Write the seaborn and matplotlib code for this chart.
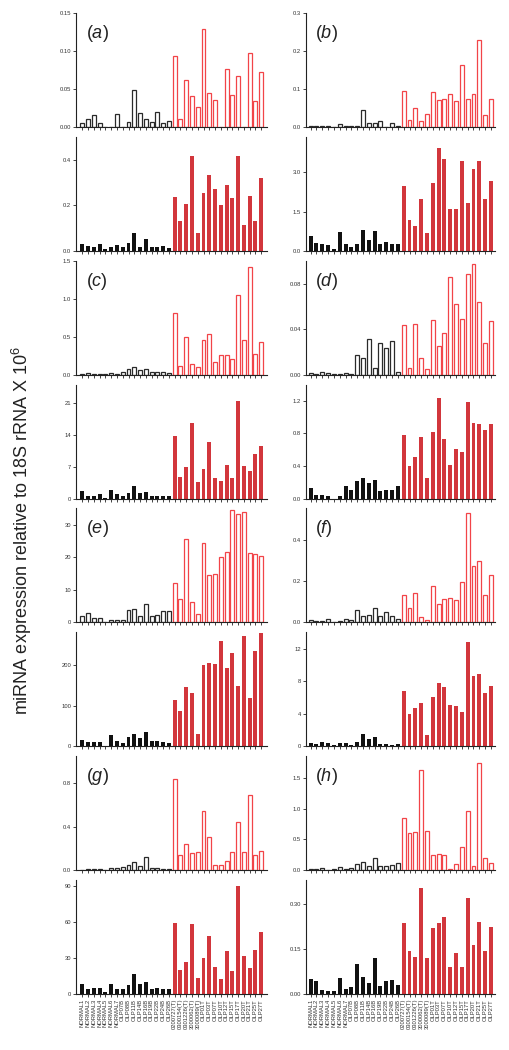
import pandas as pd
import seaborn as sns
import matplotlib.pyplot as plt

sns.set_style("ticks")
plt.rcParams["font.family"] = ["Liberation Sans", "DejaVu Sans"]
plt.rcParams["mathtext.fontset"] = "custom"
plt.rcParams["mathtext.rm"] = "Liberation Sans"
plt.rcParams["mathtext.it"] = "Liberation Sans:italic"

normal_labels = ["NORMAL1", "NORMAL2", "NORMAL3", "NORMAL4", "NORMAL5", "NORMAL6", "NORMAL7"]
olp_labels = ["OLP07B", "OLP08B", "OLP11B", "OLP14B", "OLP16B", "OLP19B", "OLP22B", "OLP24B", "OLP26B"]
oscc_labels = ["0200727(T)", "0300154(T)", "0301226(T)", "3000062(T)", "3000089(T)",
               "OLP01T", "OLP03T", "OLP07T", "OLP10T", "OLP12T", "OLP15T", "OLP17T",
               "OLP20T", "OLP21T", "OLP25T", "OLP27T"]
samples = normal_labels + olp_labels + oscc_labels
groups = ["control"] * 16 + ["oscc"] * 16

# upper (open bars) and lower (filled bars) panel for each miRNA
a_open = [0.005, 0.011, 0.016, 0.005, 0, 0, 0.017, 0, 0.006, 0.049, 0.018, 0.011, 0.007, 0.020, 0.005, 0.008,
          0.094, 0.011, 0.062, 0.041, 0.026, 0.129, 0.045, 0.035, 0, 0.076, 0.042, 0.067, 0, 0.098, 0.034, 0.073]
a_filled = [0.029, 0.023, 0.018, 0.028, 0.007, 0.018, 0.026, 0.016, 0.036, 0.080, 0.019, 0.053, 0.019, 0.019, 0.022, 0.013,
            0.235, 0.131, 0.206, 0.415, 0.080, 0.255, 0.331, 0.272, 0.201, 0.289, 0.234, 0.418, 0.114, 0.241, 0.130, 0.320]
b_open = [0.002, 0.003, 0.002, 0.002, 0, 0.008, 0.002, 0.003, 0.003, 0.046, 0.010, 0.010, 0.015, 0, 0.011, 0.003,
          0.096, 0.019, 0.049, 0.016, 0.033, 0.091, 0.072, 0.074, 0.086, 0.068, 0.162, 0.075, 0.086, 0.229, 0.032, 0.074]
b_filled = [0.58, 0.30, 0.28, 0.22, 0.08, 0.72, 0.26, 0.14, 0.26, 0.80, 0.43, 0.75, 0.28, 0.32, 0.26, 0.28,
            2.46, 1.16, 0.93, 1.98, 0.70, 2.59, 3.91, 3.52, 1.60, 1.60, 3.44, 1.81, 3.14, 3.42, 1.98, 2.66]
c_open = [0.005, 0.020, 0.013, 0.013, 0.010, 0.020, 0.013, 0.035, 0.070, 0.100, 0.057, 0.075, 0.035, 0.030, 0.030, 0.022,
          0.81, 0.12, 0.50, 0.136, 0.10, 0.46, 0.54, 0.17, 0.26, 0.26, 0.21, 1.05, 0.456, 1.42, 0.27, 0.43]
c_filled = [1.6, 0.66, 0.66, 0.9, 0.2, 1.8, 0.9, 0.6, 1.3, 2.85, 1.24, 1.46, 0.6, 0.6, 0.6, 0.6,
            13.8, 4.67, 6.93, 16.5, 3.72, 6.56, 12.5, 4.45, 3.8, 7.37, 4.45, 21.4, 7.2, 6.1, 9.85, 11.6]
d_open = [0.0018, 0.0006, 0.0023, 0.0015, 0.001, 0.0006, 0.0012, 0.0006, 0.0173, 0.0147, 0.0314, 0.0059, 0.0275, 0.0237, 0.0296, 0.0026,
          0.0437, 0.0059, 0.0448, 0.0144, 0.005, 0.0478, 0.0252, 0.0363, 0.0856, 0.0618, 0.0487, 0.0882, 0.097, 0.0642, 0.0275, 0.0475]
d_filled = [0.13, 0.05, 0.05, 0.03, 0.0, 0.035, 0.156, 0.107, 0.22, 0.254, 0.19, 0.233, 0.098, 0.11, 0.11, 0.156,
            0.775, 0.405, 0.516, 0.758, 0.254, 0.82, 1.23, 0.733, 0.41, 0.607, 0.574, 1.19, 0.934, 0.922, 0.848, 0.914]
e_open = [2.1, 2.9, 1.45, 1.35, 0, 0.6, 0.7, 0.8, 3.7, 4.1, 1.95, 5.6, 1.85, 2.4, 3.4, 3.4,
          12.2, 7.1, 25.5, 6.3, 2.6, 24.4, 14.5, 15.0, 20.2, 21.7, 34.6, 33.3, 33.8, 21.3, 21.1, 20.3]
e_filled = [16, 10, 11, 11, 0, 27, 14, 8, 23, 31, 21, 35, 14, 14, 10, 9,
            113, 86, 146, 130, 29, 200, 204, 203, 258, 192, 229, 148, 270, 119, 233, 278]
f_open = [0.013, 0.008, 0.008, 0.019, 0, 0.008, 0.019, 0.010, 0.061, 0.032, 0.037, 0.068, 0.032, 0.051, 0.031, 0.018,
          0.133, 0.072, 0.143, 0.024, 0.011, 0.174, 0.090, 0.114, 0.120, 0.108, 0.196, 0.530, 0.270, 0.296, 0.133, 0.231]
f_filled = [0.41, 0.33, 0.57, 0.41, 0.2, 0.41, 0.45, 0.2, 0.5, 1.56, 0.94, 1.15, 0.25, 0.25, 0.16, 0.25,
            6.76, 3.93, 4.67, 5.29, 1.35, 6.02, 7.83, 7.25, 5.08, 4.92, 4.18, 12.83, 8.69, 8.85, 6.56, 7.42]
g_open = [0.006, 0.009, 0.009, 0.009, 0, 0.019, 0.016, 0.028, 0.043, 0.074, 0.037, 0.118, 0.019, 0.022, 0.009, 0.009,
          0.843, 0.143, 0.242, 0.161, 0.164, 0.543, 0.304, 0.043, 0.050, 0.084, 0.171, 0.440, 0.171, 0.691, 0.143, 0.174]
g_filled = [8.1, 3.9, 4.7, 5.3, 1.7, 8.1, 4.5, 4.2, 7.5, 16.7, 8.1, 10.3, 3.9, 4.7, 4.2, 4.2,
            59, 20, 26.5, 58.2, 13.1, 30.1, 48.2, 22.3, 12.5, 36.2, 19.2, 90, 31.8, 22, 36.5, 51.8]
h_open = [0.016, 0.020, 0.027, 0, 0.020, 0.054, 0.020, 0.032, 0.103, 0.135, 0.060, 0.190, 0.070, 0.060, 0.081, 0.124,
          0.85, 0.61, 0.616, 1.62, 0.632, 0.254, 0.27, 0.243, 0.022, 0.108, 0.373, 0.968, 0.07, 1.735, 0.205, 0.114]
h_filled = [0.049, 0.042, 0.013, 0.011, 0.010, 0.053, 0.018, 0.025, 0.101, 0.056, 0.038, 0.120, 0.027, 0.045, 0.048, 0.029,
            0.236, 0.144, 0.125, 0.355, 0.120, 0.220, 0.238, 0.258, 0.091, 0.136, 0.091, 0.321, 0.164, 0.240, 0.142, 0.225]

# (letter, open, filled, (top ylim, ticks, labels), (bottom ylim, ticks, labels))
panels = [
    ("a", a_open, a_filled, (0.15, [0, 0.05, 0.10, 0.15], ["0.00", "0.05", "0.10", "0.15"]),
     (0.5, [0, 0.2, 0.4], ["0.0", "0.2", "0.4"])),
    ("b", b_open, b_filled, (0.3, [0, 0.1, 0.2, 0.3], ["0.0", "0.1", "0.2", "0.3"]),
     (4.35, [0, 1.5, 3.0], ["0.0", "1.5", "3.0"])),
    ("c", c_open, c_filled, (1.5, [0, 0.5, 1.0, 1.5], ["0.0", "0.5", "1.0", "1.5"]),
     (25, [0, 7, 14, 21], ["0", "7", "14", "21"])),
    ("d", d_open, d_filled, (0.1, [0, 0.04, 0.08], ["0.00", "0.04", "0.08"]),
     (1.4, [0, 0.4, 0.8, 1.2], ["0.0", "0.4", "0.8", "1.2"])),
    ("e", e_open, e_filled, (35, [0, 10, 20, 30], ["0", "10", "20", "30"]),
     (280, [0, 100, 200], ["0", "100", "200"])),
    ("f", f_open, f_filled, (0.55, [0, 0.2, 0.4], ["0.0", "0.2", "0.4"]),
     (14, [0, 4, 8, 12], ["0", "4", "8", "12"])),
    ("g", g_open, g_filled, (1.05, [0, 0.4, 0.8], ["0.0", "0.4", "0.8"]),
     (95, [0, 30, 60, 90], ["0", "30", "60", "90"])),
    ("h", h_open, h_filled, (1.85, [0, 0.5, 1.0, 1.5], ["0.0", "0.5", "1.0", "1.5"]),
     (0.38, [0, 0.15, 0.30], ["0.00", "0.15", "0.30"])),
]

W, H = 510, 1050
fig = plt.figure(figsize=(W / 100, H / 100), dpi=100)

open_pal = {"control": "#2a2a2a", "oscc": "#f24448"}
fill_pal = {"control": "#111111", "oscc": "#ec1c24"}


def draw(ax, values, filled, ylim, ticks, ticklabels, show_x, xlim):
    df = pd.DataFrame({"sample": samples, "value": values, "group": groups})
    if filled:
        sns.barplot(data=df, x="sample", y="value", hue="group", palette=fill_pal,
                    width=0.68, dodge=False, legend=False, errorbar=None,
                    linewidth=0, ax=ax)
    else:
        sns.barplot(data=df, x="sample", y="value", hue="group", palette=open_pal,
                    width=0.68, dodge=False, legend=False, errorbar=None,
                    fill=False, linewidth=0.9, ax=ax)
    ax.set_xlim(*xlim)
    ax.set_ylim(0, ylim)
    ax.set_yticks(ticks)
    ax.set_yticklabels(ticklabels)
    ax.set_xlabel("")
    ax.set_ylabel("")
    sns.despine(ax=ax)
    for s in ["left", "bottom"]:
        ax.spines[s].set_linewidth(0.8)
        ax.spines[s].set_color("#222222")
    ax.tick_params(axis="y", length=2.5, width=0.6, pad=1, labelsize=4.2, labelcolor="#333333")
    ax.tick_params(axis="x", length=2.5, width=0.6, pad=1, labelsize=4.2, labelcolor="#333333",
                   rotation=90, labelbottom=show_x)


cols = [(76, 191, (-1.1, 32.0)), (306, 189, (-0.8, 31.7))]
row_step = 123.86
ph = 114

for i, (letter, vo, vf, top_spec, bot_spec) in enumerate(panels):
    col = i % 2
    pair = i // 2
    left, width, xlim = cols[col]
    for k, (vals, filled, spec) in enumerate([(vo, False, top_spec), (vf, True, bot_spec)]):
        r = pair * 2 + k
        top = 13 + r * row_step
        ax = fig.add_axes([left / W, 1 - (top + ph) / H, width / W, ph / H])
        draw(ax, vals, filled, spec[0], spec[1], spec[2], show_x=(r == 7), xlim=xlim)
        if not filled:
            ax.text(0.05, 0.82, "($\\mathit{" + letter + "}$)", transform=ax.transAxes,
                    fontsize=13, ha="left", va="center", color="#222222")

fig.text(0.043, 0.495, "miRNA expression relative to 18S rRNA X 10$^6$", rotation=90,
         ha="center", va="center", fontsize=13, color="#222222")

fig.savefig("out.png", dpi=100)
